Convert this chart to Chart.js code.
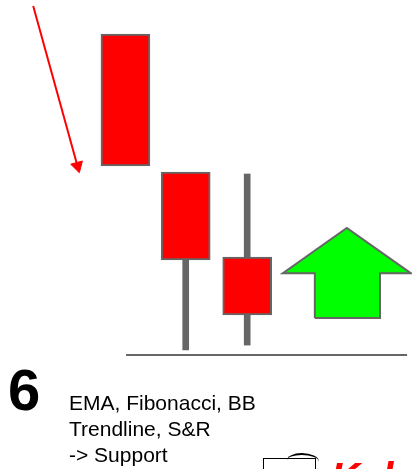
<!DOCTYPE html>
<html>
<head>
<meta charset="utf-8">
<script src="https://cdn.jsdelivr.net/npm/chart.js@4/dist/chart.umd.min.js"></script>
<style>
  html, body { margin: 0; padding: 0; background: #fff; overflow: hidden; }
  #wrap { position: relative; width: 412px; height: 469px; overflow: hidden; }
  #chart-box { position: absolute; left: 0; top: 0; width: 412px; height: 469px; }
  .txt { position: absolute; font-family: "Liberation Sans", Arial, sans-serif; color: #000; white-space: nowrap; }
  #num { left: 8px; top: 361px; font-size: 58px; line-height: 58px; font-weight: bold; }
  #notes { left: 69px; top: 390px; font-size: 21px; line-height: 26px; }
  #logo-box { position: absolute; left: 263px; top: 458px; width: 51px; height: 30px; border: 1.5px solid #000; }
  #logo-curve { position: absolute; left: 287px; top: 453px; width: 32px; height: 14px; border-top: 2px solid #000; border-radius: 50% 60% 0 0; }
  #logo-txt { left: 331px; top: 457px; font-size: 40px; line-height: 40px; font-weight: bold; font-style: italic; color: #ff0000; }
</style>
</head>
<body>
<div id="wrap">
  <div id="chart-box"><canvas id="candles"></canvas></div>
  <div class="txt" id="num">6</div>
  <div class="txt" id="notes">EMA, Fibonacci, BB<br>Trendline, S&amp;R<br>-&gt; Support</div>
  <div id="logo-curve"></div>
  <div id="logo-box"></div>
  <div class="txt" id="logo-txt">Kal</div>
</div>
<script>
// candle positions and prices (0 = support line)
const candleX = [1, 1.98, 2.98];
const opens = [100, 57.0, 30.5];
const closes = [58.9, 29.6, 12.5];
const highs = [100, 57.0, 56.4];
const lows = [58.9, 1.6, 3.1];

// support line
const supportX = [1.01, 5.58];
const supportY = [0, 0];

// red trend arrow (down)
const trendX = [-0.5, 0.22];
const trendY = [108.7, 58.9];

// green up arrow outline
const arrowX = [4.08, 4.08, 3.56, 4.60, 5.64, 5.14, 5.14, 4.08];
const arrowY = [11.5, 25.5, 25.5, 39.6, 25.5, 25.5, 11.5, 11.5];

const toPoints = (xs, ys) => xs.map((x, i) => ({ x: x, y: ys[i] }));

const bodies = candleX.map((x, i) => ({ x: x, y: [closes[i], opens[i]] }));
// upper and lower wicks, only where they stick out of the body
const wicks = [];
candleX.forEach((x, i) => {
  const top = Math.max(opens[i], closes[i]);
  const bot = Math.min(opens[i], closes[i]);
  if (highs[i] > top) wicks.push({ x: x, y: [top, highs[i]] });
  if (lows[i] < bot) wicks.push({ x: x, y: [lows[i], bot] });
});

new Chart(document.getElementById("candles"), {
  type: "bar",
  data: {
    datasets: [
      {
        // candle bodies
        data: bodies,
        backgroundColor: "#ff0000",
        borderColor: "#666666",
        borderWidth: 2,
        borderSkipped: false,
        barThickness: 49,
        grouped: false,
        order: 0,
      },
      {
        // wicks
        data: wicks,
        backgroundColor: "#666666",
        borderWidth: 0,
        barThickness: 6,
        grouped: false,
        order: 1,
      },
      {
        type: "line",
        data: toPoints(supportX, supportY),
        borderColor: "#666666",
        borderWidth: 2,
        pointRadius: 0,
        order: 2,
      },
      {
        type: "line",
        data: toPoints(trendX, trendY),
        borderColor: "#ff0000",
        borderWidth: 2,
        pointRadius: [0, 7],
        pointStyle: "triangle",
        pointRotation: 164.6,
        pointBackgroundColor: "#ff0000",
        pointBorderColor: "#ff0000",
        pointBorderWidth: 1,
        order: 2,
      },
      {
        type: "line",
        data: toPoints(arrowX, arrowY),
        borderColor: "#666666",
        borderWidth: 2,
        borderJoinStyle: "miter",
        backgroundColor: "#00ff00",
        fill: "shape",
        tension: 0,
        pointRadius: 0,
        order: 2,
      },
    ],
  },
  options: {
    responsive: true,
    maintainAspectRatio: false,
    animation: false,
    events: [],
    layout: { padding: 0, autoPadding: false },
    plugins: {
      legend: { display: false },
      tooltip: { enabled: false },
    },
    scales: {
      x: { type: "linear", min: -1.04, max: 5.66, offset: false, display: false },
      y: { min: -35.5, max: 110.6, display: false },
    },
  },
});
</script>
</body>
</html>
